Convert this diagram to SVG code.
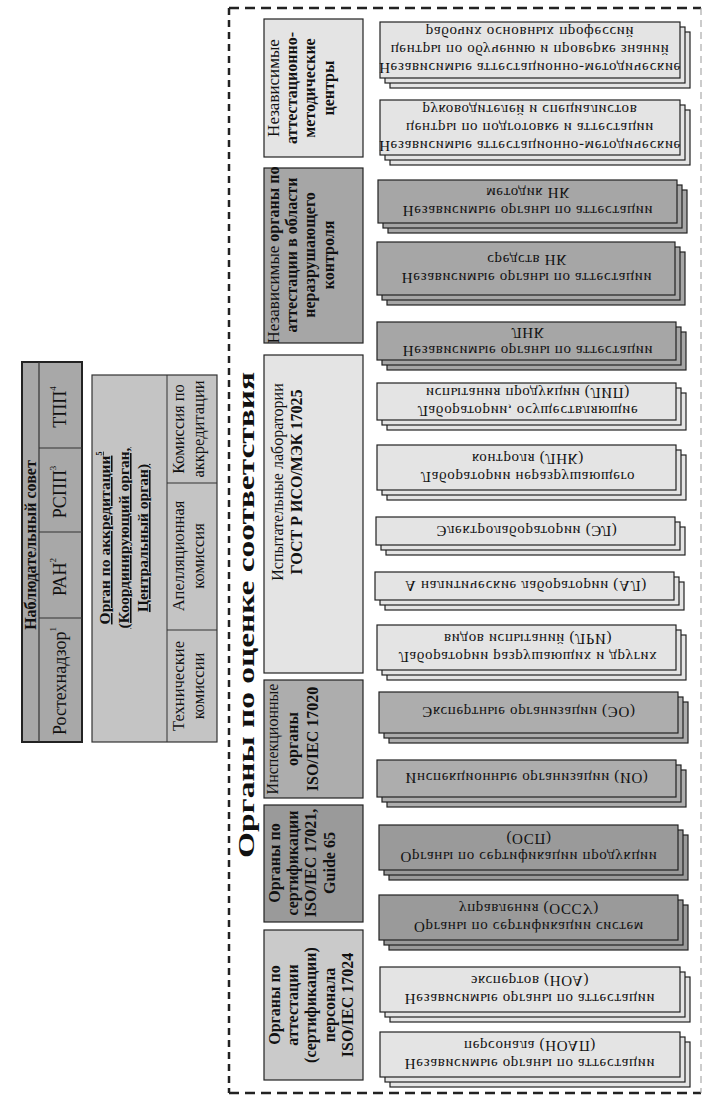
<svg xmlns="http://www.w3.org/2000/svg" width="704" height="1100" viewBox="0 0 704 1100">
<style>
.sf{font-family:"Liberation Serif","Times New Roman",serif;fill:#111}
.b{font-weight:bold}
.nw{font-weight:normal}
.box{stroke:#222;stroke-width:1.2}
.ob{stroke:#222;stroke-width:2}
.dt{font-size:15px;letter-spacing:0.65px;text-anchor:middle}
.hd{font-size:16px;font-weight:bold;text-anchor:middle}
.lt{fill:#e4e4e4}.dk{fill:#a6a6a6}.md{fill:#adadad}.dd{fill:#9a9a9a}.pl{fill:#cacaca}
</style>
<rect width="704" height="1100" fill="#ffffff"/>
<!-- dashed frame -->
<g id="frame" fill="none">
<line x1="229" y1="8" x2="701" y2="8" stroke="#222" stroke-width="2.5" stroke-dasharray="10 6"/>
<line x1="229" y1="8" x2="229" y2="1093" stroke="#222" stroke-width="2.5" stroke-dasharray="7 5"/>
<line x1="229" y1="1093" x2="701" y2="1093" stroke="#222" stroke-width="2.5" stroke-dasharray="10 6"/>
<line x1="701" y1="8" x2="701" y2="1093" stroke="#999" stroke-width="1" stroke-dasharray="7 5"/>
</g>
<g id="connectors"></g>

<!-- Supervisory council -->
<g id="council">
<rect x="22" y="362" width="60" height="380" fill="#a8a8a8" class="ob"/>
<line x1="39" y1="362" x2="39" y2="742" stroke="#333" stroke-width="1.2"/>
<line x1="39" y1="448" x2="82" y2="448" stroke="#333" stroke-width="1.2"/>
<line x1="39" y1="532" x2="82" y2="532" stroke="#333" stroke-width="1.2"/>
<line x1="39" y1="618" x2="82" y2="618" stroke="#333" stroke-width="1.2"/>
<text class="sf b" font-size="16" text-anchor="middle" transform="translate(36,545) rotate(-90)">Наблюдательный совет</text>
<text class="sf" font-size="18" text-anchor="middle" transform="translate(66,407) rotate(-90)">ТПП<tspan font-size="9" dy="-10">4</tspan></text>
<text class="sf" font-size="18" text-anchor="middle" transform="translate(66,492) rotate(-90)">РСПП<tspan font-size="9" dy="-10">3</tspan></text>
<text class="sf" font-size="18" text-anchor="middle" transform="translate(66,577) rotate(-90)">РАН<tspan font-size="9" dy="-10">2</tspan></text>
<text class="sf" font-size="18" text-anchor="middle" transform="translate(66,681) rotate(-90)">Ростехнадзор<tspan font-size="9" dy="-10">1</tspan></text>
</g>

<!-- Accreditation body -->
<g id="accreditation">
<rect x="92" y="375" width="125" height="367" fill="#c4c4c4" stroke="#333" stroke-width="1.2"/>
<line x1="167" y1="375" x2="167" y2="742" stroke="#333" stroke-width="1"/>
<line x1="167" y1="483" x2="217" y2="483" stroke="#333" stroke-width="1"/>
<line x1="167" y1="630" x2="217" y2="630" stroke="#333" stroke-width="1"/>
<g class="sf b" font-size="15.5" text-anchor="middle" text-decoration="underline" transform="translate(92,538) rotate(-90)">
<text y="18">Орган по аккредитации<tspan font-size="8" dy="-8">5</tspan></text>
<text y="37">(Координирующий орган,</text>
<text y="56">Центральный орган)</text>
</g>
<g class="sf" font-size="16.5" text-anchor="middle" transform="translate(167,429) rotate(-90)">
<text y="17">Комиссия по</text><text y="37">аккредитации</text>
</g>
<g class="sf" font-size="16.5" text-anchor="middle" transform="translate(167,556) rotate(-90)">
<text y="17">Апелляционная</text><text y="37">комиссия</text>
</g>
<g class="sf" font-size="16.5" text-anchor="middle" transform="translate(167,686) rotate(-90)">
<text y="17">Технические</text><text y="37">комиссии</text>
</g>
</g>

<!-- Title -->
<text id="title" class="sf b" font-size="24" text-anchor="middle" textLength="486" lengthAdjust="spacingAndGlyphs" transform="translate(254,615) rotate(-90)">Органы по оценке соответствия</text>

<!-- Header boxes -->
<g id="h-centers">
<rect x="264" y="19" width="99" height="138" class="box lt"/>
<g class="sf hd" transform="translate(264,88) rotate(-90)">
<text y="15" class="nw" font-size="17">Независимые</text><text y="33">аттестационно-</text><text y="51">методические</text><text y="70">центры</text>
</g>
</g>
<g id="h-ndt">
<rect x="264" y="168" width="99" height="175" class="box dk"/>
<g class="sf hd" transform="translate(264,255) rotate(-90)">
<text y="15"><tspan class="nw" font-size="17">Независимые</tspan> органы по</text><text y="33">аттестации в области</text><text y="51">неразрушающего</text><text y="70">контроля</text>
</g>
</g>
<g id="h-labs">
<rect x="264" y="355" width="99" height="318" class="box lt"/>
<g class="sf hd" transform="translate(264,482) rotate(-90)">
<text y="19" class="nw">Испытательные лаборатории</text><text y="38">ГОСТ Р ИСО/МЭК 17025</text>
</g>
</g>
<g id="h-insp">
<rect x="264" y="680" width="99" height="118" class="box md"/>
<g class="sf hd" transform="translate(264,739) rotate(-90)">
<text y="14" class="nw">Инспекционные</text><text y="34">органы</text><text y="54">ISO/IEC 17020</text>
</g>
</g>
<g id="h-cert">
<rect x="264" y="805" width="99" height="117" class="box dd"/>
<g class="sf hd" transform="translate(264,863) rotate(-90)">
<text y="16">Органы по</text><text y="34">сертификации</text><text y="52">ISO/IEC 17021,</text><text y="71">Guide 65</text>
</g>
</g>
<g id="h-pers">
<rect x="264" y="930" width="99" height="150" class="box pl"/>
<g class="sf hd" transform="translate(264,1005) rotate(-90)">
<text y="16">Органы по</text><text y="34">аттестации</text><text y="52">(сертификации)</text><text y="71">персонала</text><text y="89">ISO/IEC 17024</text>
</g>
</g>

<!-- Detail boxes (stacked) -->
<g id="d1">
<rect x="390" y="32" width="300" height="56" class="box lt"/><rect x="385" y="27" width="300" height="56" class="box lt"/><rect x="380" y="22" width="300" height="56" class="box lt"/>
<g class="sf dt" transform="matrix(1 0 0 -1 0 100)"><text x="530" y="37">Независимые аттестационно-методические</text><text x="530" y="55">центры по обучению и проверке знаний</text><text x="530" y="73">рабочих основных профессий</text></g>
</g>
<g id="d2">
<rect x="390" y="110" width="300" height="55" class="box lt"/><rect x="385" y="105" width="300" height="55" class="box lt"/><rect x="380" y="100" width="300" height="55" class="box lt"/>
<g class="sf dt" transform="matrix(1 0 0 -1 0 255)"><text x="530" y="114.5">Независимые аттестационно-методические</text><text x="530" y="132.5">центры по подготовке и аттестации</text><text x="530" y="150.5">руководителей и специалистов</text></g>
</g>
<g id="d3">
<rect x="388" y="190" width="299" height="43" class="box dk"/><rect x="383" y="185" width="299" height="43" class="box dk"/><rect x="378" y="180" width="299" height="43" class="box dk"/>
<g class="sf dt" transform="matrix(1 0 0 -1 0 403)"><text x="528" y="197">Независимые органы по аттестации</text><text x="528" y="215">методик НК</text></g>
</g>
<g id="d4">
<rect x="387" y="252" width="298" height="53" class="box dk"/><rect x="382" y="247" width="298" height="53" class="box dk"/><rect x="377" y="242" width="298" height="53" class="box dk"/>
<g class="sf dt" transform="matrix(1 0 0 -1 0 537)"><text x="527" y="264">Независимые органы по аттестации</text><text x="527" y="282">средств НК</text></g>
</g>
<g id="d5">
<rect x="387" y="332" width="299" height="38" class="box dk"/><rect x="382" y="327" width="299" height="38" class="box dk"/><rect x="377" y="322" width="299" height="38" class="box dk"/>
<g class="sf dt" transform="matrix(1 0 0 -1 0 682)"><text x="528" y="336">Независимые органы по аттестации</text><text x="528" y="354">ЛНК</text></g>
</g>
<g id="d6">
<rect x="387" y="393" width="299" height="37" class="box lt"/><rect x="382" y="388" width="299" height="37" class="box lt"/><rect x="377" y="383" width="299" height="37" class="box lt"/>
<g class="sf dt" transform="matrix(1 0 0 -1 0 803)"><text x="528" y="397">Лаборатории, осуществляющие</text><text x="528" y="415">испытания продукции (ЛИП)</text></g>
</g>
<g id="d7">
<rect x="387" y="455" width="299" height="45" class="box lt"/><rect x="382" y="450" width="299" height="45" class="box lt"/><rect x="377" y="445" width="299" height="45" class="box lt"/>
<g class="sf dt" transform="matrix(1 0 0 -1 0 935)"><text x="528" y="463">Лаборатории неразрушающего</text><text x="528" y="481">контроля (ЛНК)</text></g>
</g>
<g id="d8">
<rect x="386" y="527" width="299" height="28" class="box lt"/><rect x="381" y="522" width="299" height="28" class="box lt"/><rect x="376" y="517" width="299" height="28" class="box lt"/>
<g class="sf dt" transform="matrix(1 0 0 -1 0 1062)"><text x="527" y="536">Электролаборатории (ЭЛ)</text></g>
</g>
<g id="d9">
<rect x="385" y="582" width="299" height="28" class="box lt"/><rect x="380" y="577" width="299" height="28" class="box lt"/><rect x="375" y="572" width="299" height="28" class="box lt"/>
<g class="sf dt" transform="matrix(1 0 0 -1 0 1172)"><text x="526" y="591">А налитические лаборатории (АЛ)</text></g>
</g>
<g id="d10">
<rect x="387" y="635" width="299" height="45" class="box lt"/><rect x="382" y="630" width="299" height="45" class="box lt"/><rect x="377" y="625" width="299" height="45" class="box lt"/>
<g class="sf dt" transform="matrix(1 0 0 -1 0 1295)"><text x="528" y="643">Лаборатории разрушающих и других</text><text x="528" y="661">видов испытаний (ЛРИ)</text></g>
</g>
<g id="d11">
<rect x="389" y="702" width="299" height="41" class="box md"/><rect x="384" y="697" width="299" height="41" class="box md"/><rect x="379" y="692" width="299" height="41" class="box md"/>
<g class="sf dt" transform="matrix(1 0 0 -1 0 1425)"><text x="529" y="718">Экспертные организации (ЭО)</text></g>
</g>
<g id="d12">
<rect x="387" y="770" width="299" height="37" class="box md"/><rect x="382" y="765" width="299" height="37" class="box md"/><rect x="377" y="760" width="299" height="37" class="box md"/>
<g class="sf dt" transform="matrix(1 0 0 -1 0 1557)"><text x="527" y="784">Инспекционные организации (ИО)</text></g>
</g>
<g id="d13">
<rect x="389" y="835" width="299" height="45" class="box dd"/><rect x="384" y="830" width="299" height="45" class="box dd"/><rect x="379" y="825" width="299" height="45" class="box dd"/>
<g class="sf dt" transform="matrix(1 0 0 -1 0 1695)"><text x="529" y="843">Органы по сертификации продукции</text><text x="529" y="861">(ОСП)</text></g>
</g>
<g id="d14">
<rect x="389" y="905" width="299" height="45" class="box dd"/><rect x="384" y="900" width="299" height="45" class="box dd"/><rect x="379" y="895" width="299" height="45" class="box dd"/>
<g class="sf dt" transform="matrix(1 0 0 -1 0 1835)"><text x="529" y="913">Органы по сертификации систем</text><text x="529" y="931">управления  (ОССУ)</text></g>
</g>
<g id="d15">
<rect x="390" y="977" width="300" height="45" class="box lt"/><rect x="385" y="972" width="300" height="45" class="box lt"/><rect x="380" y="967" width="300" height="45" class="box lt"/>
<g class="sf dt" transform="matrix(1 0 0 -1 0 1979)"><text x="530" y="985">Независимые органы по аттестации</text><text x="530" y="1003">экспертов (НОА)</text></g>
</g>
<g id="d16">
<rect x="390" y="1042" width="300" height="45" class="box lt"/><rect x="385" y="1037" width="300" height="45" class="box lt"/><rect x="380" y="1032" width="300" height="45" class="box lt"/>
<g class="sf dt" transform="matrix(1 0 0 -1 0 2109)"><text x="530" y="1050">Независимые органы по аттестации</text><text x="530" y="1068">персонала (НОАП)</text></g>
</g>
</svg>
